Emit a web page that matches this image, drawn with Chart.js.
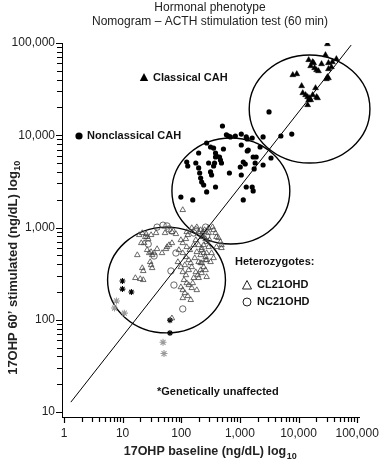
<!DOCTYPE html>
<html><head><meta charset="utf-8">
<script src="https://cdn.jsdelivr.net/npm/chart.js@4/dist/chart.umd.min.js"></script>
<style>html,body{margin:0;padding:0;background:#fff}canvas{display:block}</style>
</head><body>
<canvas id="c" width="383" height="462"></canvas>
<script>
// ---- tick labels ----
const xTickValues = [1, 10, 100, 1000, 10000, 100000];
const xTickLabels = ['1', '10', '100', '1,000', '10,000', '100,000'];
const yTickValues = [10, 100, 1000, 10000, 100000];
const yTickLabels = ['10', '100', '1,000', '10,000', '100,000'];

// ---- Classical CAH (filled triangles) ----
const classicalX = [31100, 28800, 14900, 17400, 18100, 24700, 32400, 37800, 44200, 16100, 18800, 20300, 21900, 32400, 36400, 7980, 9330, 31100, 32400, 29900, 11300, 19500, 11800, 13200, 14300, 15500, 16100, 14900, 17400, 20300, 21100, 14300];
const classicalY = [97500, 74100, 65500, 62200, 60700, 59200, 60700, 62200, 67100, 56300, 53600, 50900, 49700, 52300, 54900, 45000, 46100, 42800, 41700, 40700, 34200, 32500, 28700, 27300, 26000, 25300, 24100, 24100, 27300, 26000, 25300, 21300];

// ---- Nonclassical CAH (filled circles) ----
const nonclassicalX = [504, 589, 637, 688, 836, 1056, 1283, 1620, 271, 316, 356, 198, 524, 1056, 1334, 124, 129, 177, 384, 399, 384, 449, 466, 485, 370, 356, 198, 206, 293, 1141, 1234, 1015, 1684, 1820, 316, 329, 662, 1056, 214, 223, 241, 1751, 384, 1283, 1620, 1684, 271, 98.5, 157, 1141, 3137, 5000, 7670, 1334, 2485, 1387, 1892, 2211, 3390, 2485];
const nonclassicalY = [12600, 10100, 9820, 9580, 9820, 10300, 9580, 9340, 8240, 7460, 7270, 6420, 7100, 7840, 6750, 5130, 4640, 5000, 6420, 5960, 5810, 5810, 5390, 5000, 5000, 4640, 4420, 3900, 5000, 5130, 4880, 4530, 5810, 5000, 4000, 3710, 3900, 3710, 3440, 3110, 2890, 4310, 2750, 2750, 2750, 2490, 2430, 2140, 1990, 1990, 17900, 9820, 10300, 9110, 9580, 6920, 5810, 7460, 5670, 4760];

// ---- Heterozygotes CL21OHD (open triangles) ----
const cl21X = [21.6, 25.2, 24.3, 20.8, 23.3, 27.3, 37.2, 52.8, 69.3, 81.1, 17.8, 26.2, 30.6, 34.4, 28.4, 31.9, 38.7, 47.0, 54.9, 57.1, 61.8, 69.3, 21.6, 22.5, 29.5, 30.6, 31.9, 16.5, 20.0, 22.5, 106, 98.5, 106, 120, 124, 106, 120, 134, 145, 98.5, 106, 120, 111, 124, 98.5, 106, 115, 145, 106, 69.3, 177, 198, 223, 184, 214, 151, 177, 191, 163, 184, 151, 223, 260, 271, 223, 293, 271, 260, 198, 223, 151, 184, 214, 232, 293, 342, 356, 384, 399, 293, 19.2, 26.2, 30.6, 223, 241, 260, 271, 431, 466, 485, 485, 399, 223, 241, 260, 271, 214, 241, 214, 329, 356, 316, 129, 140, 115, 134, 157, 129, 170, 198, 304, 241, 163, 91, 87.6, 124, 250, 198, 134];
const cl21Y = [872, 851, 790, 679, 679, 751, 872, 872, 894, 851, 503, 571, 543, 529, 529, 503, 585, 529, 585, 615, 646, 679, 364, 338, 423, 392, 364, 284, 277, 270, 1550, 732, 679, 751, 615, 529, 479, 444, 412, 373, 329, 305, 270, 250, 226, 210, 195, 164, 172, 104, 732, 646, 600, 543, 503, 373, 329, 305, 284, 210, 221, 412, 346, 291, 321, 615, 529, 444, 894, 790, 988, 1010, 940, 894, 988, 1010, 940, 872, 790, 872, 830, 790, 830, 830, 790, 751, 697, 770, 697, 646, 600, 615, 571, 529, 479, 444, 412, 373, 346, 529, 467, 423, 830, 571, 392, 346, 250, 181, 467, 423, 732, 646, 646, 571, 423, 894, 940, 284, 238];

// ---- Heterozygotes NC21OHD (open circles) ----
const nc21X = [38.7, 48.9, 57.1, 27.3, 81.1, 66.7, 75.0, 106, 163, 260, 271, 34.4, 61.8, 69.3, 177];
const nc21Y = [1010, 1060, 1040, 662, 529, 338, 238, 131, 872, 1010, 810, 491, 964, 917, 940];

// ---- Genetically unaffected (asterisks) ----
const unaffBlackX = [9.92, 9.92, 14.1, 64.2, 64.2];
const unaffBlackY = [263, 215, 200, 99, 72];
const unaffGreyX = [7.86, 7.27, 10.7, 48.9, 50.8];
const unaffGreyY = [160, 134, 118, 57, 43];

// ---- Nomogram regression line ----
const lineX = [1.31, 79000];
const lineY = [12.8, 95000];

// ---- Group regions (bounding boxes, data units) ----
const regionXMin = [1442, 69.3, 5.54];
const regionXMax = [165000, 7100, 567];
const regionYMin = [5000, 662, 72];
const regionYMax = [74100, 9340, 1010];

const FONT = "'Liberation Sans', Arial, Helvetica, sans-serif";
const toPts = (xs, ys) => xs.map((x, i) => ({ x: x, y: ys[i] }));
function logTicks(lo, hi) {
  const t = [];
  for (let d = lo; d <= hi; d *= 10)
    for (let m = 1; m <= 9; m++) { const v = m * d; if (v <= hi) t.push({ value: v }); }
  return t;
}
function labelFor(vals, labs) {
  return v => { const i = vals.findIndex(t => Math.abs(t - v) < 1e-6 * t); return i >= 0 ? labs[i] : ''; };
}

const regionsPlugin = {
  id: 'regions',
  beforeDatasetsDraw(chart) {
    const { ctx, scales: { x, y } } = chart;
    ctx.save();
    ctx.strokeStyle = '#000';
    ctx.lineWidth = 1.4;
    for (let i = 0; i < regionXMin.length; i++) {
      const l = x.getPixelForValue(regionXMin[i]), r = x.getPixelForValue(regionXMax[i]);
      const t = y.getPixelForValue(regionYMax[i]), b = y.getPixelForValue(regionYMin[i]);
      ctx.beginPath();
      ctx.ellipse((l + r) / 2, (t + b) / 2, (r - l) / 2, (b - t) / 2, 0, 0, Math.PI * 2);
      ctx.stroke();
    }
    ctx.restore();
  }
};

// tick marks (major + minor) drawn through the scales
const tickMarksPlugin = {
  id: 'tickMarks',
  afterDraw(chart) {
    const { ctx, scales: { x, y } } = chart;
    ctx.save();
    ctx.strokeStyle = '#000';
    ctx.lineWidth = 1.2;
    ctx.beginPath();
    logTicks(1, 100000).forEach(t => {
      const px = Math.round(x.getPixelForValue(t.value)) + 0.5;
      const major = xTickValues.includes(t.value);
      ctx.moveTo(px, x.top);
      ctx.lineTo(px, x.top + (major ? 6 : 5));
    });
    logTicks(10, 100000).forEach(t => {
      const py = Math.round(y.getPixelForValue(t.value)) + 0.5;
      const major = yTickValues.includes(t.value);
      ctx.moveTo(y.right, py);
      ctx.lineTo(y.right - (major ? 6 : 5), py);
    });
    ctx.stroke();
    ctx.restore();
  }
};

const textPlugin = {
  id: 'texts',
  afterDraw(chart) {
    const ctx = chart.ctx;
    ctx.save();
    ctx.fillStyle = '#222';
    ctx.textBaseline = 'middle';
    // title
    ctx.textAlign = 'center';
    ctx.font = '12px ' + FONT;
    ctx.fillText('Hormonal phenotype', 210, 8);
    ctx.fillText('Nomogram \u2013 ACTH stimulation test (60 min)', 210, 22);

    // axis titles with subscript
    function subTitle(main, sub, cx, cy, size) {
      const ss = Math.round(size * 0.68);
      ctx.font = 'bold ' + size + 'px ' + FONT;
      const w1 = ctx.measureText(main).width;
      ctx.font = 'bold ' + ss + 'px ' + FONT;
      const w2 = ctx.measureText(sub).width;
      const x0 = cx - (w1 + w2) / 2;
      ctx.textAlign = 'left';
      ctx.font = 'bold ' + size + 'px ' + FONT;
      ctx.fillText(main, x0, cy);
      ctx.font = 'bold ' + ss + 'px ' + FONT;
      ctx.fillText(sub, x0 + w1 + 0.5, cy + size * 0.33);
    }
    subTitle('17OHP baseline (ng/dL) log', '10', 210, 452, 12.5);
    ctx.save();
    ctx.translate(13, 268);
    ctx.rotate(-Math.PI / 2);
    subTitle('17OHP 60\u2019 stimulated (ng/dL) log', '10', 0, 0, 13);
    ctx.restore();

    // annotations
    ctx.textAlign = 'left';
    ctx.font = 'bold 11px ' + FONT;
    ctx.fillStyle = '#111';
    ctx.fillText('Classical CAH', 153, 78);
    ctx.fillText('Nonclassical CAH', 87, 136);
    ctx.fillText('Heterozygotes:', 235, 262);
    ctx.fillText('CL21OHD', 257, 285);
    ctx.fillText('NC21OHD', 257, 302);
    ctx.fillText('*Genetically unaffected', 157, 392);
    // legend markers
    ctx.fillStyle = '#000';
    ctx.strokeStyle = '#222';
    ctx.lineWidth = 1;
    ctx.beginPath(); ctx.moveTo(144, 73); ctx.lineTo(148.2, 81); ctx.lineTo(139.8, 81); ctx.closePath(); ctx.fill();
    ctx.beginPath(); ctx.arc(79, 136, 3.6, 0, Math.PI * 2); ctx.fill();
    ctx.beginPath(); ctx.moveTo(247, 280.5); ctx.lineTo(251.5, 289); ctx.lineTo(242.5, 289); ctx.closePath(); ctx.stroke();
    ctx.beginPath(); ctx.arc(247, 302, 4, 0, Math.PI * 2); ctx.stroke();
    ctx.restore();
  }
};

const axisCommon = (vals, labs) => ({
  type: 'logarithmic',
  grid: { display: true, drawOnChartArea: false, drawTicks: true, tickLength: 5, color: 'rgba(0,0,0,0)', tickColor: 'rgba(0,0,0,0)' },
  border: { display: true, color: '#000', width: 1 },
  ticks: {
    source: 'data', autoSkip: false, maxRotation: 0, minRotation: 0, color: '#222',
    font: { family: FONT, size: 12 },
    callback: labelFor(vals, labs)
  }
});

const xAxis = axisCommon(xTickValues, xTickLabels);
xAxis.position = 'bottom';
xAxis.min = 0.925; xAxis.max = 108000;
xAxis.ticks.padding = 4;
xAxis.afterBuildTicks = s => { s.ticks = logTicks(1, 100000); };
xAxis.afterFit = s => { s.height = 45; };

const yAxis = axisCommon(yTickValues, yTickLabels);
yAxis.position = 'left';
yAxis.min = 8.83; yAxis.max = 100000;
yAxis.ticks.padding = 2;
yAxis.afterBuildTicks = s => { s.ticks = logTicks(10, 100000); };
yAxis.afterFit = s => { s.width = 62; };

new Chart(document.getElementById('c'), {
  type: 'scatter',
  data: {
    datasets: [
      { type: 'line', label: 'Nomogram', data: toPts(lineX, lineY), borderColor: '#000', borderWidth: 1, pointRadius: 0, fill: false, tension: 0 },
      { label: 'CL21OHD', data: toPts(cl21X, cl21Y), pointStyle: 'triangle', pointRadius: 3.2, backgroundColor: 'rgba(255,255,255,0)', borderColor: '#444', borderWidth: 0.8 },
      { label: 'NC21OHD', data: toPts(nc21X, nc21Y), pointStyle: 'circle', pointRadius: 3.2, backgroundColor: 'rgba(255,255,255,0)', borderColor: '#444', borderWidth: 0.8 },
      { label: 'Nonclassical CAH', data: toPts(nonclassicalX, nonclassicalY), pointStyle: 'circle', pointRadius: 2.6, backgroundColor: '#000', borderColor: '#000', borderWidth: 0 },
      { label: 'Classical CAH', data: toPts(classicalX, classicalY), pointStyle: 'triangle', pointRadius: 3.4, backgroundColor: '#000', borderColor: '#000', borderWidth: 0.5 },
      { label: 'Unaffected', data: toPts(unaffBlackX, unaffBlackY), pointStyle: 'star', pointRadius: 3, borderColor: '#000', borderWidth: 1.1 },
      { label: 'Unaffected (grey)', data: toPts(unaffGreyX, unaffGreyY), pointStyle: 'star', pointRadius: 3.5, borderColor: '#9a9a9a', borderWidth: 1.1 }
    ]
  },
  options: {
    responsive: false,
    animation: false,
    layout: { padding: { top: 43, right: 21, left: 0, bottom: 0 } },
    plugins: { legend: { display: false }, title: { display: false }, tooltip: { enabled: false } },
    scales: { x: xAxis, y: yAxis }
  },
  plugins: [regionsPlugin, tickMarksPlugin, textPlugin]
});
</script>
</body></html>
